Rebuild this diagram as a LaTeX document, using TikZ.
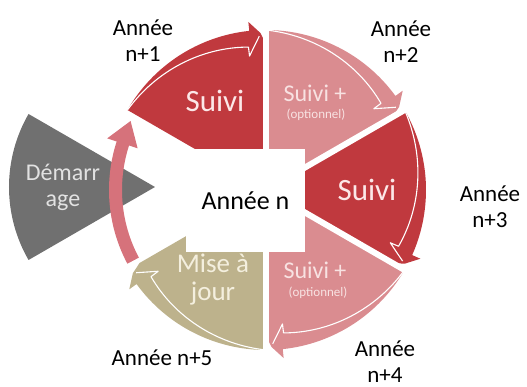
\documentclass[tikz,border=0pt]{standalone}
\usepackage{fontspec}
\setmainfont{Carlito}

\begin{document}
\begin{tikzpicture}[
    x=1pt, y=1pt,
    line join=round,
    every node/.style={inner sep=0pt, align=center},
    yearlabel/.style={font=\fontsize{23}{26}\selectfont},
    bigtext/.style={font=\fontsize{31}{33}\selectfont, text=suivitext},
    midtext/.style={font=\fontsize{24}{27}\selectfont},
    smalltext/.style={font=\fontsize{13}{14}\selectfont},
]

\definecolor{suivi}{RGB}{192,57,62}
\definecolor{suiviopt}{RGB}{218,140,144}
\definecolor{miseajour}{RGB}{189,178,140}
\definecolor{retour}{RGB}{214,114,123}
\definecolor{demarrage}{RGB}{112,112,112}
\definecolor{suivitext}{RGB}{252,232,232}
\definecolor{opttext}{RGB}{248,226,226}
\definecolor{majtext}{RGB}{244,239,222}
\definecolor{demtext}{RGB}{226,226,226}

\newcommand{\ringR}{160}

\useasboundingbox (-266,-197) rectangle (261,190);

% ---------- macro: one sector of the ring, arrow running along its rim ----------
% #1 = start angle, #2 = end angle (clockwise, so #1 > #2), #3 = colour
\newcommand{\cyclesector}[3]{%
    \fill[#3] (0,0) -- ({#1}:\ringR)
        arc[start angle={#1}, end angle={(#2)+6}, radius=\ringR]
        -- ({(#2)+6}:{\ringR+9}) -- ({(#2)+2}:{\ringR-3})
        -- ({#2}:{\ringR-14}) -- cycle;
    % thin white line: inner edge of the arrow, widening towards the head
    \draw[white, line width=1.1pt]
        plot[domain={#1}:{(#2)+7}, variable=\t, samples=25, smooth]
            (\t:{\ringR-16*((#1)-\t)/((#1)-(#2)-7)})
        -- ({(#2)+7}:{\ringR-25}) -- ({(#2)+2.5}:{\ringR-6});
}

% starting wedge on the left
\fill[demarrage] (-111,3) -- ++(150:146)
    arc[start angle=150, end angle=210, radius=146] -- cycle;

\cyclesector{150}{90}{suivi}
\cyclesector{90}{30}{suiviopt}
\cyclesector{30}{-30}{suivi}
\cyclesector{-30}{-90}{suiviopt}
\cyclesector{-90}{-150}{miseajour}

% return arrow, back up to the first year
\fill[retour] (208:157) arc[start angle=208, end angle=162, radius=157]
    -- (162:167) -- (153:152) -- (162:135) -- (162:144)
    arc[start angle=162, end angle=208, radius=144] -- cycle;

% gaps between the sectors
\foreach \a in {90,30,-30,-90}
    \draw[white, line width=6pt] (0,0) -- (\a:175);

\node[fill=white, minimum width=119pt, minimum height=103pt,
      font=\fontsize{26}{28}\selectfont] (centre) at (-20.5,-10.5) {Année n};

% texts in the sectors
\node[bigtext] (suivi1) at (-51,89) {Suivi};
\node[midtext, text=opttext] (suivi2) at (49,97) {Suivi +};
\node[smalltext, text=opttext] (opt2) at (50,75) {(optionnel)};
\node[bigtext] (suivi3) at (101,0) {Suivi};
\node[midtext, text=opttext] (suivi4) at (49,-80) {Suivi +};
\node[smalltext, text=opttext] (opt4) at (52,-103) {(optionnel)};
\node[font=\fontsize{27}{28}\selectfont, text=majtext] (maj) at (-53,-90) {Mise à\\jour};
\node[font=\fontsize{24}{26}\selectfont, text=demtext] (dem) at (-203,3) {Démarr\\age};

% years round the ring
\node[yearlabel] (an1) at (-123,149) {Année\\n+1};
\node[yearlabel] (an2) at (135,148) {Année\\n+2};
\node[yearlabel] (an3) at (224,-17) {Année\\n+3};
\node[yearlabel] (an4) at (119,-172) {Année\\n+4};
\node[yearlabel] (an5) at (-104,-168) {Année n+5};

\end{tikzpicture}
\end{document}
